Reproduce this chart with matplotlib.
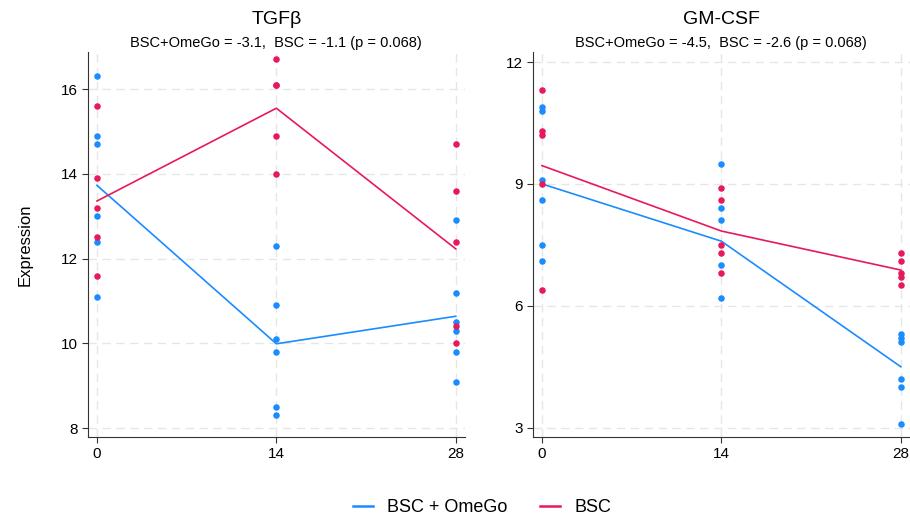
import matplotlib
matplotlib.use('Agg')
import matplotlib.pyplot as plt
from matplotlib.lines import Line2D

plt.rcParams['font.family'] = ['Liberation Sans', 'DejaVu Sans']

# data
days = [0, 14, 28]
blue_col = '#1a8cff'
red_col = '#e8195a'

# TGFb, individual values per day
tgf_omego = [[16.3, 14.9, 14.7, 13.0, 12.4, 11.1],
             [12.3, 10.9, 10.1, 9.8, 8.5, 8.3],
             [12.9, 11.2, 10.5, 10.3, 9.8, 9.1]]
tgf_bsc = [[15.6, 13.9, 13.2, 12.5, 11.6],
           [16.7, 16.1, 16.1, 14.9, 14.0],
           [14.7, 13.6, 12.4, 10.4, 10.0]]
tgf_omego_mean = [13.73, 9.99, 10.64]
tgf_bsc_mean = [13.36, 15.55, 12.23]

# GM-CSF
gm_omego = [[10.9, 10.8, 9.1, 8.6, 7.5, 7.1],
            [9.5, 8.4, 8.1, 7.0, 6.2],
            [5.3, 5.2, 5.1, 4.2, 4.0, 3.1]]
gm_bsc = [[11.3, 10.3, 10.2, 9.0, 6.4],
          [8.9, 8.6, 7.5, 7.3, 6.8],
          [7.3, 7.1, 6.8, 6.7, 6.5]]
gm_omego_mean = [9.0, 7.59, 4.5]
gm_bsc_mean = [9.45, 7.84, 6.88]

panels = [
    ('TGFβ', 'BSC+OmeGo = -3.1,  BSC = -1.1 (p = 0.068)',
     tgf_omego, tgf_bsc, tgf_omego_mean, tgf_bsc_mean, [8, 10, 12, 14, 16], (7.79, 16.88)),
    ('GM-CSF', 'BSC+OmeGo = -4.5,  BSC = -2.6 (p = 0.068)',
     gm_omego, gm_bsc, gm_omego_mean, gm_bsc_mean, [3, 6, 9, 12], (2.77, 12.25)),
]

fig = plt.figure(figsize=(9.1, 5.17), dpi=100)
lefts = [0.0967, 0.5857]

for left, (title, sub, om, bs, om_m, bs_m, yt, yl) in zip(lefts, panels):
    ax = fig.add_axes([left, 0.1547, 0.414, 0.745])
    for d, vals in zip(days, om):
        ax.scatter([d] * len(vals), vals, s=22, color=blue_col, zorder=3, linewidths=0)
    for d, vals in zip(days, bs):
        ax.scatter([d] * len(vals), vals, s=22, color=red_col, zorder=3, linewidths=0)
    ax.plot(days, om_m, color=blue_col, lw=1.2, zorder=2)
    ax.plot(days, bs_m, color=red_col, lw=1.2, zorder=2)
    ax.set_xlim(-0.7, 28.7)
    ax.set_ylim(*yl)
    ax.set_xticks(days)
    ax.set_yticks(yt)
    ax.grid(True, ls=(0, (6, 4)), color='#e6e6e6', lw=1.0)
    ax.set_axisbelow(True)
    for s in ['top', 'right']:
        ax.spines[s].set_visible(False)
    for s in ['left', 'bottom']:
        ax.spines[s].set_color('#333333')
    ax.tick_params(labelsize=11, length=4, color='#333333')
    ax.text(0.5, 1.062, title, transform=ax.transAxes, ha='center', va='bottom', fontsize=14)
    ax.text(0.5, 1.004, sub, transform=ax.transAxes, ha='center', va='bottom', fontsize=10.5)
    if left < 0.5:
        ax.set_ylabel('Expression', fontsize=12, labelpad=20)

handles = [Line2D([], [], color=blue_col, lw=1.8), Line2D([], [], color=red_col, lw=1.8)]
fig.legend(handles, ['BSC + OmeGo', 'BSC'], loc='lower center', ncol=2, frameon=False,
           fontsize=13, bbox_to_anchor=(0.53, -0.03), handlelength=1.1, columnspacing=1.8)

fig.savefig('out.png', dpi=100)
